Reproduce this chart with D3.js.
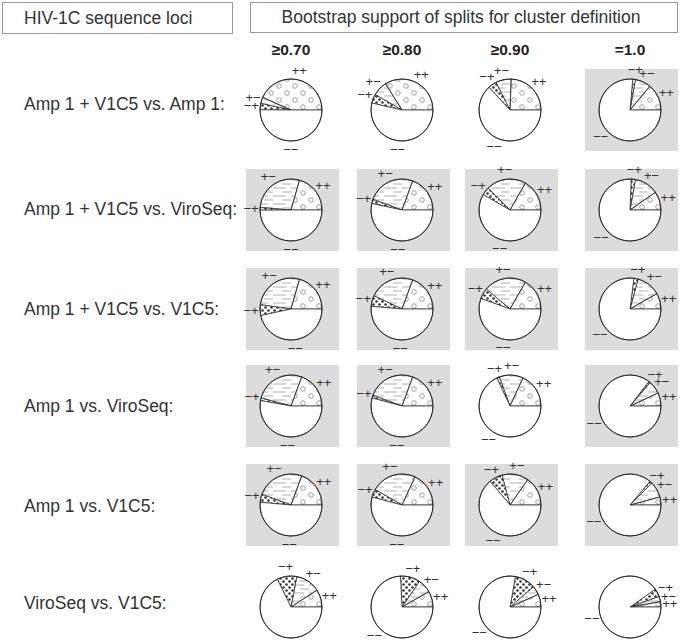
<!DOCTYPE html>
<html><head><meta charset="utf-8">
<script src="https://cdn.jsdelivr.net/npm/d3@7"></script>
<style>body{margin:0;background:#fff}svg{display:block}text{font-family:"Liberation Sans",Arial,sans-serif}</style>
</head><body>
<svg id="c" width="680" height="640"></svg>
<script>
const rowLabels = ["Amp 1 + V1C5 vs. Amp 1:","Amp 1 + V1C5 vs. ViroSeq:","Amp 1 + V1C5 vs. V1C5:","Amp 1 vs. ViroSeq:","Amp 1 vs. V1C5:","ViroSeq vs. V1C5:"];
const colLabels = ["\u22650.70","\u22650.80","\u22650.90","=1.0"];
const sliceKeys = ["++","+\u2212","\u2212+","\u2212\u2212"];
// share of splits (%) per pie: ++, +-, -+ ; -- is the remainder
const plusPlus = [
  [43.3,33.9,24.4,13.9],
  [20.6,19.4,16.7,9.7],
  [20.6,19.4,16.7,8.3],
  [19.4,19.4,18.1,6.9],
  [19.4,18.1,15.3,4.2],
  [9.2,8.3,6.7,2.8]];
const plusMinus = [
  [3.3,7.8,8.1,8.3],
  [28.1,25.0,20.8,12.5],
  [27.2,23.6,22.2,12.5],
  [26.4,25.0,12.5,6.9],
  [25.0,23.6,13.9,8.3],
  [12.8,7.2,4.7,2.8]];
const minusPlus = [
  [3.3,4.7,4.4,1.4],
  [1.4,2.2,4.2,2.2],
  [5.6,5.6,5.6,2.2],
  [1.4,1.4,1.4,0.8],
  [4.2,4.2,6.9,1.4],
  [10.3,10.3,10.8,4.2]];
const shaded = [
  [0,0,0,1],
  [1,1,1,1],
  [1,1,1,1],
  [1,1,0,1],
  [1,1,1,1],
  [0,0,0,0]];

const svg = d3.select("#c");
const defs = svg.append("defs");
const pC = defs.append("pattern").attr("id","pCirc").attr("patternUnits","userSpaceOnUse").attr("width",16).attr("height",14);
pC.append("circle").attr("cx",4).attr("cy",4).attr("r",2.3).attr("fill","none").attr("stroke","#8a8a8a").attr("stroke-width",0.8);
pC.append("circle").attr("cx",12).attr("cy",11).attr("r",2.3).attr("fill","none").attr("stroke","#8a8a8a").attr("stroke-width",0.8);
const pH = defs.append("pattern").attr("id","pHor").attr("patternUnits","userSpaceOnUse").attr("width",18).attr("height",8);
pH.append("line").attr("x1",0).attr("x2",13).attr("y1",2).attr("y2",2).attr("stroke","#9a9a9a").attr("stroke-width",0.8);
pH.append("line").attr("x1",9).attr("x2",18).attr("y1",6).attr("y2",6).attr("stroke","#9a9a9a").attr("stroke-width",0.8);
const pD = defs.append("pattern").attr("id","pDot").attr("patternUnits","userSpaceOnUse").attr("width",6).attr("height",6);
pD.append("rect").attr("width",6).attr("height",6).attr("fill","#fff");
pD.append("circle").attr("cx",1.5).attr("cy",1.5).attr("r",1.3).attr("fill","#333");
pD.append("circle").attr("cx",4.5).attr("cy",4.5).attr("r",1.3).attr("fill","#333");
const fills = ["url(#pCirc)","url(#pHor)","url(#pDot)","#fff"];

svg.append("rect").attr("x",2.5).attr("y",2.5).attr("width",230).attr("height",31).attr("fill","#fff").attr("stroke","#999");
svg.append("text").attr("x",24).attr("y",24).attr("font-size",17.5).attr("fill","#333").text("HIV-1C sequence loci");
svg.append("rect").attr("x",250.5).attr("y",2.5).attr("width",427).attr("height",30).attr("fill","#fff").attr("stroke","#999");
svg.append("text").attr("x",461).attr("y",23).attr("text-anchor","middle").attr("font-size",17.5).attr("fill","#333").text("Bootstrap support of splits for cluster definition");

const xs = d3.scaleOrdinal().domain(colLabels).range([291,402,510,630]);
const y = d3.scaleOrdinal().domain(rowLabels).range([110,210,309,406,505,607]);
const yLab = d3.scaleOrdinal().domain(rowLabels).range([110,215,315,412,512,609]);

colLabels.forEach(c=>{
  svg.append("text").attr("x",xs(c)).attr("y",55).attr("text-anchor","middle").attr("font-size",15.5).attr("font-weight","bold").attr("fill","#222").text(c);
});
rowLabels.forEach((r,i)=>{
  svg.append("text").attr("x",24).attr("y",yLab(r)).attr("font-size",17.5).attr("fill","#333").text(r);
});

const R = 31;
const pie = d3.pie().sort(null).value(d=>d.v).startAngle(Math.PI/2).endAngle(Math.PI/2-2*Math.PI);
const arc = d3.arc().innerRadius(0).outerRadius(R);

rowLabels.forEach((r,i)=>{
  colLabels.forEach((c,j)=>{
    const cx = xs(c), cy = y(r);
    const g = svg.append("g").attr("transform",`translate(${cx},${cy})`);
    if (shaded[i][j]) g.append("rect").attr("x",-45).attr("y",-41).attr("width",93).attr("height",82).attr("fill","#dcdcdc");
    const pp=plusPlus[i][j], pm=plusMinus[i][j], mp=minusPlus[i][j];
    const data = [{k:0,v:pp},{k:1,v:pm},{k:2,v:mp},{k:3,v:100-pp-pm-mp}];
    const arcs = pie(data);
    g.selectAll("path.w").data(arcs).join("path").attr("class","w").attr("d",arc).attr("fill","#fff");
    g.selectAll("path.s").data(arcs).join("path").attr("class","s").attr("d",arc)
      .attr("fill",d=>fills[d.data.k]).attr("stroke","#222").attr("stroke-width",0.7).attr("stroke-linejoin","round");
    g.append("circle").attr("r",R).attr("fill","none").attr("stroke","#222").attr("stroke-width",0.9);
    g.selectAll("text").data(arcs).join("text")
      .attr("x",d=>{const a=(d.startAngle+d.endAngle)/2;return Math.sin(a)*(R+9);})
      .attr("y",d=>{const a=(d.startAngle+d.endAngle)/2;return -Math.cos(a)*(R+9)+4;})
      .attr("text-anchor","middle").attr("font-size",13).attr("fill","#333").text(d=>sliceKeys[d.data.k]);
  });
});
</script></body></html>
